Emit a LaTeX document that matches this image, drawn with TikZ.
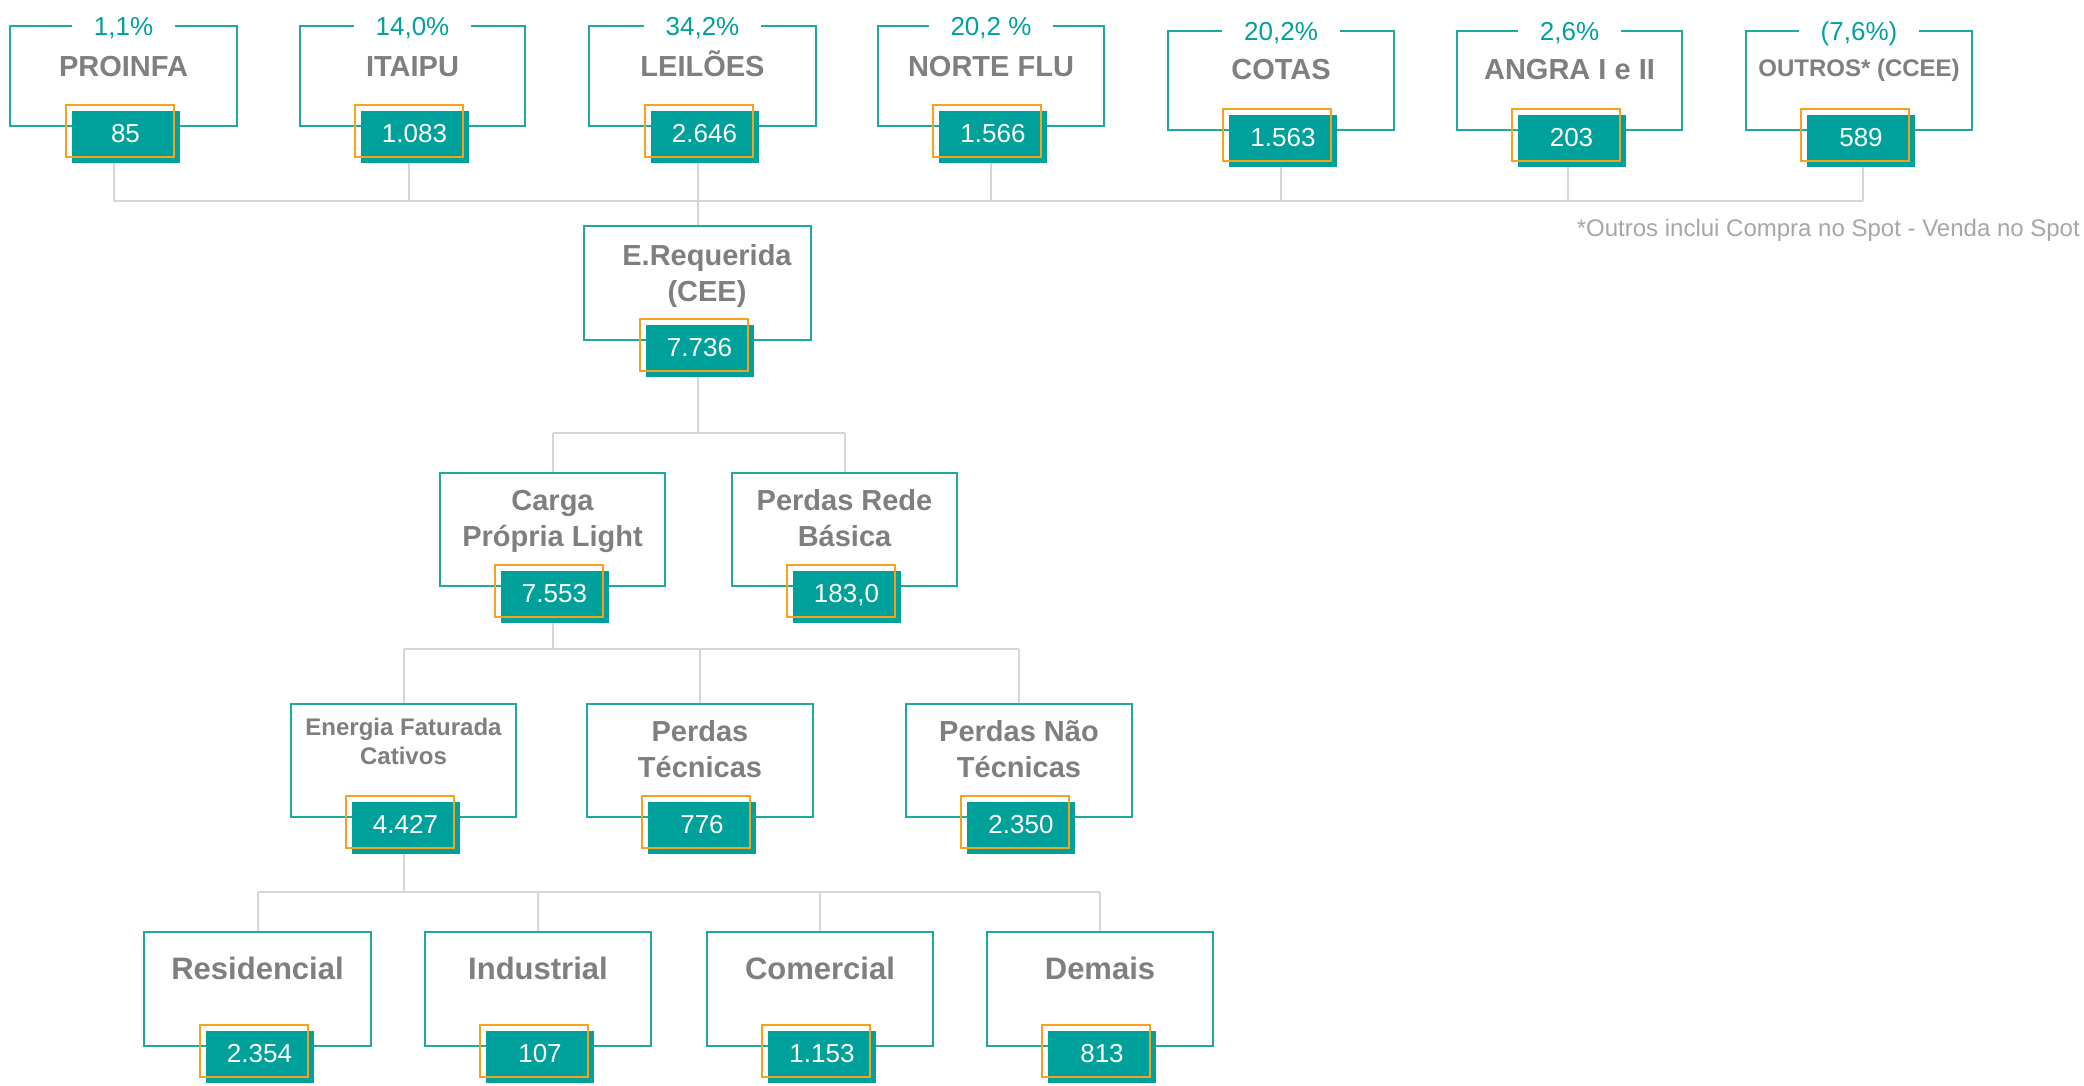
\documentclass[tikz,border=0pt]{standalone}
\usepackage{fontspec}
\setmainfont{Liberation Sans}
\usetikzlibrary{calc}
\pgfdeclarelayer{bg}
\pgfsetlayers{bg,main}
\definecolor{tealc}{HTML}{00A19A}
\definecolor{tealb}{HTML}{1FA89E}
\definecolor{orng}{HTML}{F7A21B}
\definecolor{lbl}{HTML}{7F7F7F}
\definecolor{conn}{HTML}{D6D6D6}
\definecolor{notec}{HTML}{A6A6A6}
\tikzset{
 orgbox/.style={draw=tealb, line width=2pt, fill=white, inner sep=0pt, outer sep=0pt},
 valbox/.style={fill=tealc, text=white, minimum width=108pt, minimum height=52pt, inner sep=0pt, outer sep=0pt,
   text height=18pt, text depth=7pt, font=\fontsize{26}{30}\selectfont},
 oframe/.style={draw=orng, line width=2pt},
 lab/.style={text=lbl, inner sep=0pt, text height=20.5pt, text depth=0pt, font=\bfseries\fontsize{29}{34}\selectfont},
 labs/.style={lab, text height=17pt, font=\bfseries\fontsize{24}{29}\selectfont},
 labl/.style={lab, text height=22pt, font=\bfseries\fontsize{31}{36}\selectfont},
 pct/.style={text=tealc, fill=white, inner xsep=22pt, inner ysep=3pt, text height=18.5pt, text depth=0pt,
   font=\fontsize{26}{30}\selectfont},
 wire/.style={draw=conn, line width=2pt},
 notetext/.style={text=notec, inner sep=0pt, font=\fontsize{24}{28}\selectfont},
}
\newcommand{\mkbox}[6]{%
 \node[orgbox, minimum width={(#4-#2)*1pt}, minimum height={(#5-#3)*1pt}] (#1) at ({(#2+#4)/2},{(#3+#5)/2}) {};
 \node[valbox] (#1v) at ({(#2+#4)/2+2},{#5+11}) {#6};
 \draw[oframe] ($(#1v.south west)+(-6,-6)$) rectangle ($(#1v.north east)+(-6,-6)$);
}
\begin{document}
\begin{tikzpicture}[x=1pt,y=-1pt]
\useasboundingbox (0,0) rectangle (2084,1085);
% top row
\mkbox{proinfa}{10}{26}{237}{126}{85}
\mkbox{itaipu}{300}{26}{525}{126}{1.083}
\mkbox{leiloes}{589}{26}{816}{126}{2.646}
\mkbox{norte}{878}{26}{1104}{126}{1.566}
\mkbox{cotas}{1168}{31}{1394}{130}{1.563}
\mkbox{angra}{1457}{31}{1682}{130}{203}
\mkbox{outros}{1746}{31}{1972}{130}{589}
\node[pct] (pproinfa) at (proinfa.north) {1,1\%};
\node[pct] (pitaipu) at (itaipu.north) {14,0\%};
\node[pct] (pleiloes) at (leiloes.north) {34,2\%};
\node[pct] (pnorte) at (norte.north) {20,2 \%};
\node[pct] (pcotas) at (cotas.north) {20,2\%};
\node[pct] (pangra) at (angra.north) {2,6\%};
\node[pct] (poutros) at (outros.north) {(7,6\%)};
\node[lab] (lproinfa) at (123.5,66) {PROINFA};
\node[lab] (litaipu) at (412.5,66) {ITAIPU};
\node[lab] (lleiloes) at (702.5,66) {LEILÕES};
\node[lab] (lnorte) at (991,66) {NORTE FLU};
\node[lab] (lcotas) at (1281,69) {COTAS};
\node[lab] (langra) at (1569.5,69) {ANGRA I e II};
\node[labs] (loutros) at (1859,68) {OUTROS* (CCEE)};
\node[notetext, anchor=east] (nota) at (2080,230) {*Outros inclui Compra no Spot - Venda no Spot};
% level 2
\mkbox{ereq}{584}{226}{811}{340}{7.736}
\node[lab] (lereq1) at (707,255) {E.Requerida};
\node[lab] (lereq2) at (707,291) {(CEE)};
% level 3
\mkbox{carga}{440}{473}{665}{586}{7.553}
\mkbox{rede}{732}{473}{957}{586}{183,0}
\node[lab] (lcarga1) at (552.5,500) {Carga};
\node[lab] (lcarga2) at (552.5,536) {Própria Light};
\node[lab] (lrede1) at (844.5,500) {Perdas Rede};
\node[lab] (lrede2) at (844.5,536) {Básica};
% level 4
\mkbox{energia}{291}{704}{516}{817}{4.427}
\mkbox{ptec}{587}{704}{813}{817}{776}
\mkbox{pnt}{906}{704}{1132}{817}{2.350}
\node[labs] (lenergia1) at (403.5,727) {Energia Faturada};
\node[labs] (lenergia2) at (403.5,756) {Cativos};
\node[lab] (lptec1) at (700,731) {Perdas};
\node[lab] (lptec2) at (700,767) {Técnicas};
\node[lab] (lpnt1) at (1019,731) {Perdas Não};
\node[lab] (lpnt2) at (1019,767) {Técnicas};
% level 5
\mkbox{resid}{144}{932}{371}{1046}{2.354}
\mkbox{indus}{425}{932}{651}{1046}{107}
\mkbox{comer}{707}{932}{933}{1046}{1.153}
\mkbox{demais}{987}{932}{1213}{1046}{813}
\node[labl] (lresid) at (257.5,968) {Residencial};
\node[labl] (lindus) at (538,968) {Industrial};
\node[labl] (lcomer) at (820,968) {Comercial};
\node[labl] (ldemais) at (1100,968) {Demais};
% connectors
\coordinate (b1) at (0,201);
\coordinate (b2) at (0,433);
\coordinate (b3) at (0,649);
\coordinate (b4) at (0,892);
\begin{pgfonlayer}{bg}
\foreach \n/\dx in {proinfa/-9.5,itaipu/-3.5,leiloes/-4.5,norte/0,cotas/0,angra/-1.5,outros/4}
  \draw[wire] ($(\n.south |- \n v.south)+(\dx,0)$) -- ($(\n.south |- b1)+(\dx,0)$);
\draw[wire] ($(proinfa.south |- b1)+(-9.5,0)$) -- ($(outros.south |- b1)+(4,0)$);
\draw[wire] ($(leiloes.south |- b1)+(-4.5,0)$) -- ($(leiloes.south |- ereq.north)+(-4.5,0)$);
\draw[wire] (ereq.south |- ereqv.south) -- (ereq.south |- b2);
\draw[wire] (carga.north |- b2) -- (rede.north |- b2);
\draw[wire] (carga.north |- b2) -- (carga.north);
\draw[wire] (rede.north |- b2) -- (rede.north);
\draw[wire] (carga.south |- cargav.south) -- (carga.south |- b3);
\draw[wire] (energia.north |- b3) -- (pnt.north |- b3);
\foreach \n in {energia,ptec,pnt}
  \draw[wire] (\n.north |- b3) -- (\n.north);
\draw[wire] (energia.south |- energiav.south) -- (energia.south |- b4);
\draw[wire] (resid.north |- b4) -- (demais.north |- b4);
\foreach \n in {resid,indus,comer,demais}
  \draw[wire] (\n.north |- b4) -- (\n.north);
\end{pgfonlayer}
\end{tikzpicture}
\end{document}
